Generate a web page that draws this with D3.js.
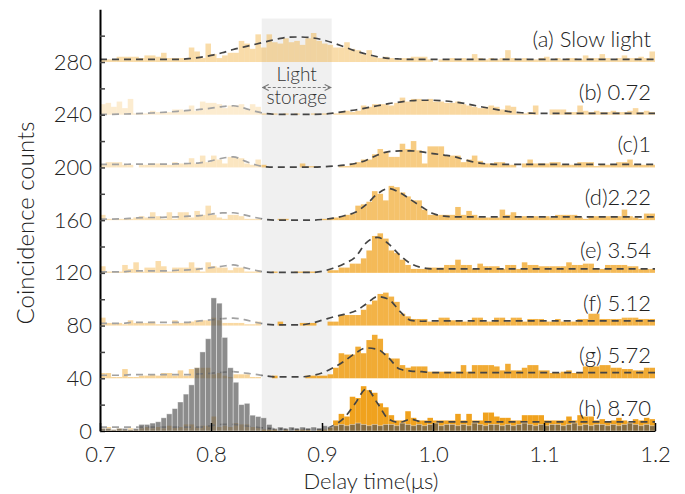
<!DOCTYPE html>
<html>
<head>
<meta charset="utf-8">
<script src="https://cdn.jsdelivr.net/npm/d3@7"></script>
<style>
  body { margin: 0; background: #fff; }
  text { font-family: Lato, "Open Sans", sans-serif; }
</style>
</head>
<body>
<div id="chart"></div>
<script>
// ---- histogram bins: 5 ns wide, 0.7 .. 1.2 us ----
const binWidth = 0.005;
const binTimes = d3.range(100).map(i => +(0.7 + i * binWidth).toFixed(3));

// trace labels and vertical offsets (counts)
const traceLabels = ["(a) Slow light", "(b) 0.72", "(c)1", "(d)2.22", "(e) 3.54", "(f) 5.12", "(g) 5.72", "(h) 8.70"];
const traceOffsets = [280, 240, 200, 160, 120, 80, 40, 0];

// coincidence counts per bin (above each trace's offset)
const countsA = [2,2,2,4,4,4,4,3,5,5, 4,7,3,3,3,3,11,8,3,14, 6,3,5,7,7,16,14,10,21,11, 21,15,14,18,15,16,13,18,22,16,
                 14,13,11,11,15,10,9,6,9,4, 3,4,3,2,3,3,4,4,4,2, 0,2,2,3,2,3,2,6,3,2, 3,2,3,9,3,2,3,2,2,3,
                 4,2,3,2,3,3,2,5,3,3, 6,3,2,3,5,3,3,4,3,8];
const countsB = [8,9,6,10,5,12,1,1,1,3, 2,2,2,4,4,3,7,3,10,9, 9,8,5,7,7,8,4,8,6,1, 0,1,0,1,0,1,0,0,1,0,
                 1,0,1,2,3,2,3,7,6,8, 8,8,7,9,13,10,12,12,11,12, 10,10,9,9,10,8,7,6,5,6, 7,6,4,7,6,1,1,2,7,0,
                 0,4,4,4,2,2,7,3,2,3, 2,2,3,2,2,3,5,2,3,2];
const countsC = [2,4,4,4,2,2,0,2,2,3, 3,2,2,4,3,3,7,3,9,4, 9,6,3,8,8,7,3,2,6,2, 0,0,0,0,0,0,3,1,1,0,
                 0,0,0,1,1,3,4,6,6,10, 14,12,8,8,18,14,20,13,3,16, 16,16,9,9,9,4,6,9,5,3, 3,4,4,2,2,0,3,6,3,3,
                 3,4,4,2,2,2,4,4,4,1, 2,2,2,4,4,6,2,2,2,2];
const countsD = [4,1,1,1,1,1,2,3,2,6, 3,1,6,1,6,6,2,7,4,11, 4,2,1,4,4,3,1,1,1,0, 0,0,1,1,0,0,0,0,0,0,
                 1,1,2,3,4,5,11,12,14,22, 20,15,26,25,21,18,15,15,8,4, 4,4,4,4,10,4,7,4,2,2, 2,2,8,4,6,2,3,2,3,2,
                 3,2,4,4,4,4,2,1,3,3, 3,3,3,3,8,3,2,1,5,5];
const countsE = [5,1,1,1,6,3,8,1,4,4, 9,5,1,4,4,4,8,4,1,8, 5,4,4,2,4,4,1,1,2,0, 0,1,0,0,0,1,1,1,1,0,
                 0,2,2,4,4,7,7,11,17,28, 30,26,17,15,10,6,3,3,3,4, 4,4,6,6,10,6,6,3,7,5, 5,5,3,6,6,3,8,6,6,5,
                 5,5,5,5,8,6,6,7,7,3, 3,6,6,6,6,5,5,3,3,3];
const countsF = [6,2,2,2,1,4,2,2,2,3, 1,1,1,4,2,2,3,4,4,4, 6,4,2,2,2,2,1,1,3,0, 0,0,3,0,0,0,2,2,2,0,
                 0,3,3,8,8,8,8,12,16,19, 24,25,22,18,9,7,5,5,5,3, 3,6,6,4,4,3,3,6,6,3, 3,6,6,3,6,6,3,5,5,5,
                 3,3,5,3,3,3,5,5,9,9, 5,5,5,5,6,6,6,5,5,5];
const countsG = [4,4,1,1,7,1,1,2,2,3, 2,4,4,2,6,2,7,8,8,8, 3,4,2,1,3,3,3,1,1,0, 0,2,0,0,0,0,0,2,2,2,
                 2,3,8,19,18,18,24,19,29,33, 30,19,15,15,10,8,9,9,9,5, 5,5,5,5,5,10,5,10,10,10, 10,9,6,11,6,6,8,10,10,6,
                 6,4,4,5,6,4,4,9,9,9, 10,10,8,8,7,7,6,6,8,8];
const countsH = [2,3,1,2,1,2,1,2,3,2, 3,2,4,3,3,5,5,3,4,4, 11,3,4,3,6,5,5,3,3,1, 1,1,0,1,0,1,1,1,0,1,
                 1,3,8,13,11,26,25,34,31,29, 21,18,12,8,8,15,10,8,8,10, 8,8,8,8,13,8,13,8,8,14, 14,11,10,10,8,8,12,12,12,12,
                 8,8,8,8,11,8,12,11,11,8, 9,7,8,10,8,7,9,8,10,9];
const traceCounts = [countsA, countsB, countsC, countsD, countsE, countsF, countsG, countsH];

// reference (input) pulse, drawn in grey at the bottom trace
const countsRef = [2,2,1,2,2,1,2,5,5,6, 7,10,13,17,22,28,35,48,60,70, 101,97,71,48,37,20,21,12,11,10, 5,2,3,2,3,2,3,2,3,2,
                   4,3,4,5,4,5,6,5,4,5, 4,5,5,4,6,5,4,5,4,5, 6,4,5,5,4,5,4,6,5,4, 5,5,4,5,4,5,6,5,4,5,
                   4,5,5,4,5,6,4,5,4,5, 5,4,5,4,5,6,5,4,5,4];

// fitted curves, read every 10 ns (counts above offset)
const fitTimes = d3.range(51).map(i => +(0.7 + i * 0.01).toFixed(2));
const fitA = [2,2,2,2,2,2,2,2,2.5,3.5, 5,7,9.5,11.5,13.5,15.5,17.5,18.8,19,18.5, 17,14.5,11.5,8.5,6,4,2.8,2.3,2,2,
              2,2,2,2,2,2,2,2,2,2, 2,2,2,2,2,2,2,2,2,2, 2];
const fitB = [0.3,0.3,0.5,0.7,1,1.5,2,2.6,3.3,4, 5,6.2,6.8,5,2.5,0.8,0.3,0.3,0.3,0.3, 0.4,1.2,2.4,3.6,5.2,6.8,8.4,9.6,10.6,11,
              11,10.5,9.6,8.3,6.6,5,3.5,2.2,1.5,1.1, 1,1,1,1,1,1,1,1,1,1, 1];
const fitC = [2.3,2.3,2.3,2.5,2.5,2.5,2.5,2.7,3,3.5, 5,7,8,5,2,0.5,0.2,0.2,0.2,0.2, 0.4,1,1.8,3,5.5,9.4,12,12.5,12.6,11.8,
              10.5,9.4,8,5.5,3.5,2.6,2.3,2.3,2.3,2.3, 2.3,2.3,2.3,2.3,2.3,2.3,2.3,2.3,2.3,2.3, 2.3];
const fitD = [0.8,0.8,1,1.5,2,2,2.3,2.5,3,3.5, 4.5,5.5,5.6,4,2,0.5,0,0,0,0, 0.5,1.5,3.3,6,12,20,24,21,15.5,10,
              5,3,2.5,2.5,2.5,2.5,2.5,2.5,2.5,2.5, 2.5,2.5,2.5,2.5,2.5,2.5,2.5,2.5,2.5,2.5, 2.5];
const fitE = [0.8,0.8,0.8,1.5,1.5,1.5,1.5,2,2.3,3, 4,5,6,4,2,0.5,0.3,0.3,0.3,0.3, 1.2,3.5,7,12,23,27,22,13.5,7,4,
              3,3,3,3,3,3,3,3,3,3, 3,3,3,3,3,3,3,3,3,3, 3];
const fitF = [1.7,1.7,1.7,2.5,2.5,2.5,2.5,2.5,2.5,3.5, 4.3,5.2,5.7,4.5,2.5,1,0.5,0.5,0.5,1.7, 4,6.5,8.5,11,16.5,22,20,11,4,3.3,
              3.5,3.5,3.5,3.5,3.5,3.5,3.5,3.5,3.5,3.5, 3.5,3.5,3.5,3.5,3.5,3.5,3.5,3.5,3.5,3.5, 3.5];
const fitG = [2.3,2.3,2.3,2.8,2.8,2.8,2.8,2.8,2.8,3.3, 3.8,4.5,5,4,3,1.7,1,1,1,2, 4,8,13,19,23,22,15.5,7,5.5,5,
              4.3,4.3,4.3,4.3,4.3,4.3,4.3,4.3,4.3,4.3, 4.3,4.3,4.3,4.3,4.3,4.3,4.3,4.3,4.3,4.3, 4.3];
const fitH = [3,3,3,3,3,3,3,3,3,3, 4,5,5,4,3,2,1.5,1.5,1.5,1.5, 1.5,4,10,21,32,21,9,6.5,9,7,
              7,7,7,7,7,7,7,7,7,7, 7,7,7,7,7,7,7,7,7,7, 7];
const traceFits = [fitA, fitB, fitC, fitD, fitE, fitF, fitG, fitH];

// storage window (us)
const storageStart = 0.8457, storageEnd = 0.9087;

const xTicks = [0.7, 0.8, 0.9, 1.0, 1.1, 1.2];
const yLabelTicks = [0, 40, 80, 120, 160, 200, 240, 280];

// ---- styles ----
const orange = "#f0a21e";
const traceOpacity = [0.38, 0.42, 0.55, 0.66, 0.74, 0.82, 0.9, 1.0];

const width = 685, height = 494;

const svg = d3.select("#chart").append("svg")
  .attr("width", width)
  .attr("height", height);

const x = d3.scaleLinear().domain([0.7, 1.2]).range([100, 655]);
const y = d3.scaleLinear().domain([0, 320]).range([431, 9.3]);
const barW = x(0.7 + binWidth) - x(0.7);

// storage window background
svg.append("rect")
  .attr("x", x(storageStart))
  .attr("y", y(313))
  .attr("width", x(storageEnd) - x(storageStart))
  .attr("height", y(0) - y(313))
  .attr("fill", "#f0f0f0");

// ---- histogram bars ----
traceCounts.forEach((counts, k) => {
  const base = traceOffsets[k];
  svg.append("g")
    .attr("fill", orange)
    .attr("fill-opacity", traceOpacity[k])
    .selectAll("rect")
    .data(counts.map((v, i) => ({ t: binTimes[i], v })).filter(d => d.v > 0))
    .join("rect")
    .attr("x", d => x(d.t))
    .attr("width", barW)
    .attr("y", d => y(base + d.v))
    .attr("height", d => y(base) - y(base + d.v));
});

// ---- dashed fits ----
const fitLine = base => d3.line()
  .x(d => x(d.t))
  .y(d => y(base + d.v))
  .curve(d3.curveMonotoneX);

traceFits.forEach((fit, k) => {
  svg.append("path")
    .datum(fit.map((v, i) => ({ t: fitTimes[i], v })))
    .attr("d", fitLine(traceOffsets[k]))
    .attr("fill", "none")
    .attr("stroke", "#444")
    .attr("stroke-width", 1.7)
    .attr("stroke-dasharray", "7,5");
});

// fade the part before the storage window (traces b-h)
svg.append("rect")
  .attr("x", x(0.7))
  .attr("y", y(278.5))
  .attr("width", x(storageStart) - x(0.7))
  .attr("height", y(0) - y(278.5))
  .attr("fill", "#fff")
  .attr("opacity", 0.5);

// ---- reference pulse (grey) ----
svg.append("g")
  .attr("fill", "#555")
  .attr("fill-opacity", 0.68)
  .attr("stroke", "#fff")
  .attr("stroke-opacity", 0.5)
  .attr("stroke-width", 0.8)
  .selectAll("rect")
  .data(countsRef.map((v, i) => ({ t: binTimes[i], v })).filter(d => d.v > 0))
  .join("rect")
  .attr("x", d => x(d.t))
  .attr("width", barW)
  .attr("y", d => y(d.v))
  .attr("height", d => y(0) - y(d.v));

// ---- axes ----
const yAxis = svg.append("g")
  .attr("transform", `translate(${x(0.7)},0)`)
  .call(d3.axisLeft(y)
    .tickValues(d3.range(0, 301, 20))
    .tickSize(-5)
    .tickSizeOuter(0)
    .tickPadding(8)
    .tickFormat(d => yLabelTicks.includes(d) ? d : ""));
yAxis.select(".domain").attr("stroke", "#000").attr("stroke-width", 2);
yAxis.selectAll(".tick line").attr("stroke", "#444").attr("stroke-width", 1.5);
yAxis.selectAll(".tick text")
  .attr("fill", "#222")
  .style("font-size", "22px")
  .style("font-weight", 300);

const xAxis = svg.append("g")
  .attr("transform", `translate(0,${y(0)})`)
  .call(d3.axisBottom(x)
    .tickValues(xTicks)
    .tickSize(-8)
    .tickSizeOuter(0)
    .tickPadding(15)
    .tickFormat(d3.format(".1f")));
xAxis.select(".domain").attr("stroke", "#000").attr("stroke-width", 1);
xAxis.selectAll(".tick line").attr("stroke", "#000").attr("stroke-width", 1.5);
xAxis.selectAll(".tick text")
  .attr("fill", "#222")
  .style("font-size", "22px")
  .style("font-weight", 300);

// axis titles
svg.append("text")
  .attr("x", 371)
  .attr("y", 489)
  .attr("text-anchor", "middle")
  .attr("fill", "#222")
  .style("font-size", "22px")
  .style("font-weight", 300)
  .text("Delay time(\u03bcs)");

svg.append("text")
  .attr("transform", "translate(34,223) rotate(-90)")
  .attr("text-anchor", "middle")
  .attr("fill", "#222")
  .style("font-size", "24px")
  .style("font-weight", 300)
  .text("Coincidence counts");

// trace labels
svg.selectAll(".trace-label")
  .data(traceLabels)
  .join("text")
  .attr("class", "trace-label")
  .attr("x", 651)
  .attr("y", (d, i) => y(traceOffsets[i]) - 15)
  .attr("text-anchor", "end")
  .attr("fill", "#222")
  .style("font-size", "22px")
  .style("font-weight", 300)
  .text(d => d);

// ---- "Light storage" annotation ----
const defs = svg.append("defs");
defs.append("marker")
  .attr("id", "arr")
  .attr("viewBox", "0 0 8 8")
  .attr("refX", 7).attr("refY", 4)
  .attr("markerWidth", 8).attr("markerHeight", 8)
  .attr("markerUnits", "userSpaceOnUse")
  .attr("orient", "auto-start-reverse")
  .append("path")
  .attr("d", "M1,1 L7,4 L1,7")
  .attr("fill", "none")
  .attr("stroke", "#777")
  .attr("stroke-width", 1.2);

const midStore = (x(storageStart) + x(storageEnd)) / 2;
svg.append("line")
  .attr("x1", x(storageStart) + 1).attr("x2", x(storageEnd) - 1)
  .attr("y1", 87.5).attr("y2", 87.5)
  .attr("stroke", "#777")
  .attr("stroke-width", 1.2)
  .attr("stroke-dasharray", "3,2")
  .attr("marker-start", "url(#arr)")
  .attr("marker-end", "url(#arr)");

svg.append("text")
  .attr("x", midStore).attr("y", 81)
  .attr("text-anchor", "middle")
  .attr("fill", "#333")
  .style("font-size", "19px")
  .style("font-weight", 300)
  .text("Light");
svg.append("text")
  .attr("x", midStore).attr("y", 104)
  .attr("text-anchor", "middle")
  .attr("fill", "#333")
  .style("font-size", "19px")
  .style("font-weight", 300)
  .text("storage");
</script>
</body>
</html>
